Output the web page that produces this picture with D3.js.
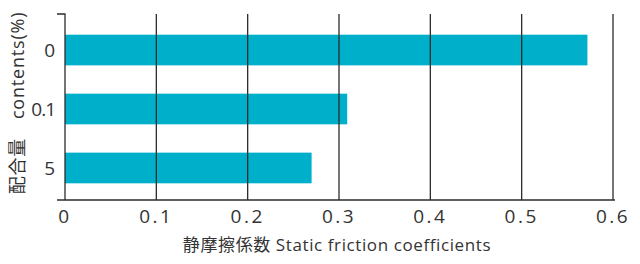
<!DOCTYPE html>
<meta charset="utf-8">
<script src="https://d3js.org/d3.v7.min.js"></script>
<style>
  body { margin: 0; background: #fff; }
  text { font-family: "Open Sans", "Noto Sans CJK JP", sans-serif; fill: #333; }
</style>
<div id="chart"></div>
<script>
    // Data
    const contents = ["0", "0.1", "5"];
    const friction = [0.572, 0.309, 0.270];
    const xTicks = [0, 0.1, 0.2, 0.3, 0.4, 0.5, 0.6];

    const width = 640, height = 264;
    const plotTop = 14, plotBottom = 200, plotLeft = 65;

    const svg = d3.select("#chart")
                .append("svg")
                .attr("width", width)
                .attr("height", height);

    // X scale
    const x = d3.scaleLinear()
                .domain([0, 0.6])
                .range([plotLeft, 613]);

    // Y scale (categories)
    const y = d3.scaleBand()
                .domain(contents)
                .range([17, 201])
                .paddingInner(0.48)
                .paddingOuter(0.3);

    // Bars
    svg.append("g")
        .selectAll("rect")
        .data(contents)
        .join("rect")
            .attr("x", x(0))
            .attr("y", d => y(d))
            .attr("width", (d, i) => x(friction[i]) - x(0))
            .attr("height", y.bandwidth())
            .attr("fill", "#00b0cb");

    // Grid lines drawn over the bars
    svg.append("g")
        .selectAll("line")
        .data(xTicks.slice(1))
        .join("line")
            .attr("x1", d => x(d))
            .attr("x2", d => x(d))
            .attr("y1", plotTop)
            .attr("y2", plotBottom)
            .attr("stroke", "#2e2a2a")
            .attr("stroke-width", 1.3);

    // Axis lines
    svg.append("path")
        .attr("d", `M${plotLeft - 8},${plotTop}H${plotLeft}V${plotBottom}`)
        .attr("fill", "none")
        .attr("stroke", "#2e2a2a")
        .attr("stroke-width", 1.3);
    svg.append("line")
        .attr("x1", plotLeft - 8).attr("x2", 615)
        .attr("y1", plotBottom).attr("y2", plotBottom)
        .attr("stroke", "#2e2a2a")
        .attr("stroke-width", 1.3);

    // X tick labels
    svg.append("g")
        .selectAll("text")
        .data(xTicks)
        .join("text")
            .attr("x", d => x(d))
            .attr("y", 223)
            .attr("text-anchor", "middle")
            .style("font-size", "19px")
            .style("letter-spacing", "2.5px")
            .text(d => d === 0 ? "0" : d3.format(".1f")(d));

    // Y tick labels
    svg.append("g")
        .selectAll("text")
        .data(contents)
        .join("text")
            .attr("x", 55)
            .attr("y", d => y(d) + y.bandwidth() / 2 + 7)
            .attr("text-anchor", "end")
            .style("font-size", "19px")
            .style("letter-spacing", d => d === "0.1" ? "-1px" : null)
            .text(d => d);

    // Axis titles
    svg.append("text")
        .attr("x", 337)
        .attr("y", 251)
        .attr("text-anchor", "middle")
        .style("font-size", "17px")
        .style("letter-spacing", "0.6px")
        .text("静摩擦係数 Static friction coefficients");

    svg.append("text")
        .attr("transform", "translate(24, 103) rotate(-90)")
        .attr("text-anchor", "middle")
        .style("font-size", "18px")
        .style("letter-spacing", "0.8px")
        .text("配合量\u3000contents(%)");
</script>
